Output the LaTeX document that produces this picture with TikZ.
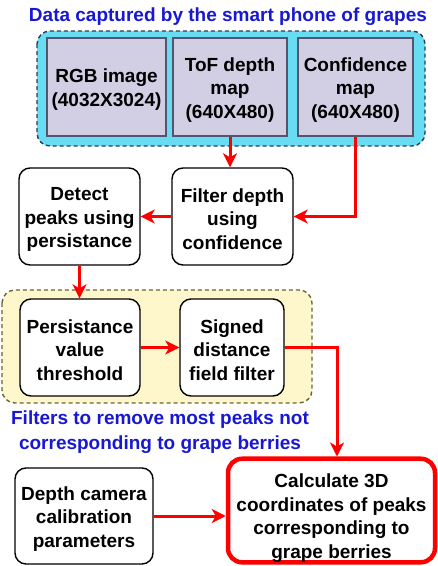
\documentclass[tikz,border=0pt]{standalone}
\usepackage{fontspec}
\setmainfont{Liberation Sans}
\usetikzlibrary{arrows.meta,calc}
\definecolor{labelblue}{RGB}{24,24,210}
\definecolor{groupcyan}{RGB}{104,220,242}
\definecolor{groupedge}{RGB}{40,62,80}
\definecolor{datafill}{RGB}{210,207,228}
\definecolor{dataedge}{RGB}{84,84,108}
\definecolor{groupyellow}{RGB}{255,247,204}
\definecolor{yellowedge}{RGB}{104,100,60}
\definecolor{flowred}{RGB}{255,0,0}
% invisible struts that lower the text a little inside its box
\newcommand{\lowtxt}{\rule{0pt}{19pt}}
\newcommand{\lowertxt}{\rule{0pt}{29pt}}
\tikzset{
  txt/.style={font=\bfseries\fontsize{19}{23.5}\selectfont, align=center, inner sep=0pt},
  databox/.style={txt, draw=dataedge, fill=datafill, line width=1.4pt},
  stepbox/.style={txt, draw=black, fill=white, line width=1.4pt, rounded corners=11pt},
  keybox/.style={txt, draw=flowred, fill=white, line width=4.5pt, rounded corners=14pt},
  grp/.style={dashed, dash pattern=on 4pt off 3pt, line width=1.4pt, rounded corners=13pt},
  flow/.style={draw=flowred, line width=3pt, -{Stealth[length=14pt,width=14pt,inset=4pt]}},
  caption/.style={font=\bfseries\fontsize{19}{25}\selectfont, text=labelblue, align=center, inner sep=0pt}
}
\begin{document}
\begin{tikzpicture}[x=1pt, y=-1pt]
\useasboundingbox (0,0) rectangle (438,566);

% group of captured data
\filldraw[grp, fill=groupcyan, draw=groupedge] (37,31) rectangle (425,146);
\node[caption] (title) at (228,17) {Data captured by the smart phone of grapes};

\node[databox, minimum width=119pt, minimum height=98pt] (rgb) at (106.5,87) {\lowtxt RGB image\\(4032X3024)};
\node[databox, minimum width=114pt, minimum height=98pt] (tof) at (230,87) {\lowtxt ToF depth\\map\\(640X480)};
\node[databox, minimum width=115pt, minimum height=98pt] (conf) at (355.5,87) {\lowtxt Confidence\\map\\(640X480)};

% filtering and peak detection
\node[stepbox, minimum width=121pt, minimum height=97pt] (detect) at (79.5,216.5) {\lowtxt Detect\\peaks using\\persistance};
\node[stepbox, minimum width=121pt, minimum height=97pt] (filter) at (232.5,216.5) {\lowtxt Filter depth\\using\\confidence};

% group of peak filters
\filldraw[grp, fill=groupyellow, draw=yellowedge] (2,290) rectangle (312,403);
\node[stepbox, minimum width=120pt, minimum height=97pt] (persist) at (80,347.5) {\lowtxt Persistance\\value\\threshold};
\node[stepbox, minimum width=104pt, minimum height=97pt] (signed) at (232,347.5) {\lowtxt Signed\\distance\\field filter};
\node[caption] (filtcap) at (160,432) {Filters to remove most peaks not\\corresponding to grape berries};

% final stage
\node[stepbox, minimum width=138pt, minimum height=96pt] (depth) at (84,516) {\lowtxt Depth camera\\calibration\\parameters};
\node[keybox, minimum width=207pt, minimum height=103pt] (calc) at (331.5,510.5) {\lowertxt Calculate 3D\\coordinates of peaks\\corresponding to\\grape berries};

% connectors
\coordinate (turn) at (337,347.5);
\draw[flow] (tof.south) -- (tof.south |- filter.north);
\draw[flow] (conf.south) |- (filter.east);
\draw[flow] (filter.west) -- (detect.east);
\draw[flow] (detect.south) -- (detect.south |- persist.north);
\draw[flow] (persist.east) -- (signed.west);
\draw[flow] (signed.east) -- (turn) -- (turn |- calc.north);
\draw[flow] (depth.east) -- (depth.east -| calc.west);
\end{tikzpicture}
\end{document}
